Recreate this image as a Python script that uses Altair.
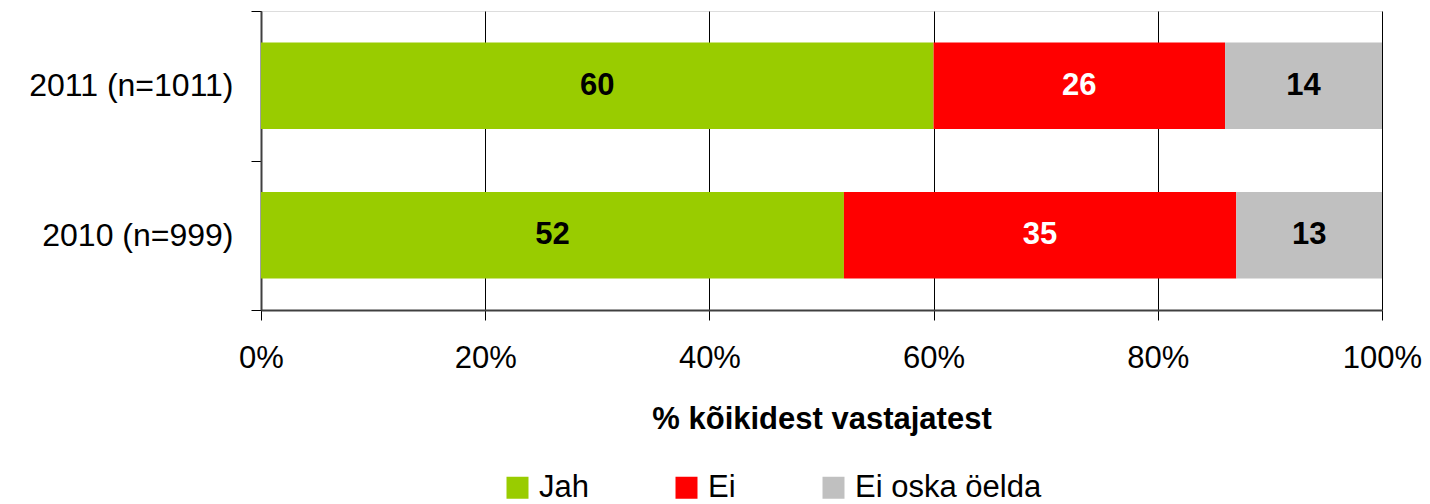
import altair as alt
import pandas as pd

years = ["2011 (n=1011)", "2010 (n=999)"]
categories = ["Jah", "Ei", "Ei oska öelda"]
jah = [60, 52]
ei = [26, 35]
eos = [14, 13]
colors = ["#99CC00", "#FF0000", "#C0C0C0"]
text_colors = ["#000000", "#FFFFFF", "#000000"]

rows = []
for i, y in enumerate(years):
    for j, (c, vals) in enumerate(zip(categories, [jah, ei, eos])):
        rows.append({"year": y, "cat": c, "order": j, "value": vals[i], "tcolor": text_colors[j]})
df = pd.DataFrame(rows)

FONT = "Liberation Sans"
FS = 31

base = alt.Chart(df).transform_stack(
    stack="value", groupby=["year"], as_=["x0", "x1"], sort=[alt.SortField("order", "ascending")]
).transform_calculate(mid="(datum.x0 + datum.x1) / 2")

yenc = alt.Y(
    "year:N",
    sort=years,
    title=None,
    scale=alt.Scale(paddingInner=0, paddingOuter=0),
    axis=alt.Axis(
        tickBand="extent",
        labelFontSize=32,
        labelFont=FONT,
        labelColor="#000000",
        labelPadding=18,
        labelLimit=600,
        tickSize=10,
        tickColor="#000000",
        domainColor="#404040",
        domainWidth=2,
        grid=False,
    ),
)

bars = base.mark_bar(height={"band": 0.58}).encode(
    x=alt.X(
        "x0:Q",
        scale=alt.Scale(domain=[0, 100]),
        title="% kõikidest vastajatest",
        axis=alt.Axis(
            values=[0, 20, 40, 60, 80, 100],
            labelExpr="datum.value + '%'",
            labelFontSize=FS,
            labelFont=FONT,
            labelColor="#000000",
            labelPadding=23,
            labelFlush=False,
            labelOverlap=False,
            labelLimit=600,
            tickSize=10,
            tickColor="#000000",
            domainColor="#404040",
            domainWidth=2,
            grid=True,
            gridColor="#000000",
            gridWidth=1,
            titleFont=FONT,
            titleFontSize=FS,
            titleFontWeight="bold",
            titleColor="#000000",
            titlePadding=31,
        ),
    ),
    x2="x1:Q",
    y=yenc,
    color=alt.Color(
        "cat:N",
        sort=categories,
        scale=alt.Scale(domain=categories, range=colors),
        legend=alt.Legend(
            title=None,
            orient="none",
            direction="horizontal",
            legendX=241,
            legendY=461,
            symbolType="square",
            symbolSize=484,
            symbolStrokeWidth=0,
            symbolOpacity=1,
            labelFontSize=FS,
            labelFont=FONT,
            labelColor="#000000",
            labelOffset=6,
            labelLimit=600,
            columnPadding=82,
            padding=0,
        ),
    ),
)

labels = base.mark_text(font=FONT, fontSize=FS, fontWeight="bold").encode(
    x=alt.X("mid:Q"),
    y=alt.Y("year:N", sort=years),
    text=alt.Text("value:Q"),
    color=alt.Color("tcolor:N", scale=None),
)

chart = (
    alt.layer(bars, labels)
    .properties(
        width=1121,
        height=299,
        autosize=alt.AutoSizeParams(type="none"),
        padding={"left": 253, "top": 3, "right": 40, "bottom": 194},
    )
    .configure_view(stroke="#A0A0A0", strokeWidth=2)
    .configure(background="#FFFFFF")
)

chart.save("out.html", embed_options={"renderer": "svg", "actions": False})
